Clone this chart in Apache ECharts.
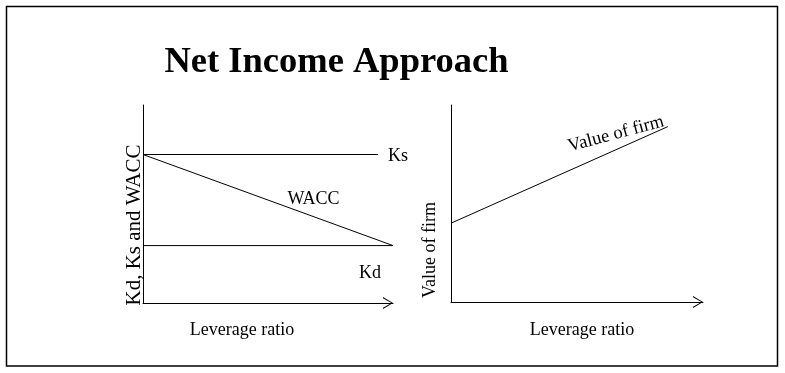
<!DOCTYPE html>
<html>
<head>
<meta charset="utf-8">
<script src="https://cdn.jsdelivr.net/npm/echarts@6/dist/echarts.min.js"></script>
<style>
html,body{margin:0;padding:0;background:#fff;}
#c{width:785px;height:373px;}
</style>
</head>
<body>
<div id="c"></div>
<script>
// ---- data (schematic) ----
const title = 'Net Income Approach';
const xName = 'Leverage ratio';
const leftYName = 'Kd, Ks and WACC';
const rightYName = 'Value of firm';

const ksX = [0, 9.4];
const ksY = [7.5, 7.5];
const kdX = [0, 10];
const kdY = [2.9, 2.9];
const waccX = [0, 10];
const waccY = [7.5, 2.9];
const valueX = [0, 8.6];
const valueY = [4.0, 8.9];

const seriesLabels = ['Ks', 'WACC', 'Kd', 'Value of firm'];

// ---- helpers ----
const pairs = (xs, ys) => xs.map((x, i) => [x, ys[i]]);
const FONT = '"Liberation Serif", "Times New Roman", serif';
const chevron = 'path://M6,0L12,10L10.8,10L6,1.6L1.2,10L0,10Z';

function xAxis(gi) {
  return {
    type: 'value', gridIndex: gi, min: 0, max: 10,
    axisLine: { show: true, onZero: false, lineStyle: { color: '#000', width: 1 },
      symbol: ['none', chevron], symbolSize: [12, 10], symbolOffset: [0, -5] },
    axisTick: { show: false }, axisLabel: { show: false }, splitLine: { show: false }
  };
}
function yAxis(gi) {
  return {
    type: 'value', gridIndex: gi, min: 0, max: 10,
    axisLine: { show: true, onZero: false, lineStyle: { color: '#000', width: 1 } },
    axisTick: { show: false }, axisLabel: { show: false }, splitLine: { show: false }
  };
}
function line(gi, xs, ys) {
  return {
    type: 'line', xAxisIndex: gi, yAxisIndex: gi, data: pairs(xs, ys),
    symbol: 'none', lineStyle: { color: '#000', width: 1 }, silent: true
  };
}
function txt(text, x, y, size, opts) {
  return Object.assign({
    type: 'text', x: x, y: y, silent: true,
    style: Object.assign({ text: text, font: size + 'px ' + FONT, fill: '#000',
      align: 'center', verticalAlign: 'middle' }, (opts && opts.style) || {})
  }, opts && opts.rotation !== undefined ? { rotation: opts.rotation } : {});
}

const chart = echarts.init(document.getElementById('c'));
chart.setOption({
  animation: false,
  backgroundColor: '#fff',
  grid: [
    { left: 143, top: 105, width: 250, height: 198 },
    { left: 451, top: 105, width: 252, height: 197 }
  ],
  xAxis: [xAxis(0), xAxis(1)],
  yAxis: [yAxis(0), yAxis(1)],
  series: [
    line(0, ksX, ksY),
    line(0, waccX, waccY),
    line(0, kdX, kdY),
    line(1, valueX, valueY)
  ],
  graphic: [
    { type: 'rect', silent: true, shape: { x: 6.5, y: 6.5, width: 771, height: 359.5 },
      style: { fill: 'none', stroke: '#000', lineWidth: 1.5 } },
    { type: 'text', x: 336.5, y: 62.5, silent: true,
      style: { text: title, font: 'bold 36.5px ' + FONT, fill: '#000', align: 'center', verticalAlign: 'middle' } },
    txt(xName, 242, 330, 18),
    txt(xName, 582, 330, 18),
    txt(leftYName, 134, 225, 21, { rotation: Math.PI / 2 }),
    txt(rightYName, 430, 250, 18, { rotation: Math.PI / 2 }),
    txt(seriesLabels[0], 388, 156, 18, { style: { align: 'left' } }),
    txt(seriesLabels[1], 313.5, 199, 18),
    txt(seriesLabels[2], 359, 273, 18, { style: { align: 'left' } }),
    txt(seriesLabels[3], 616, 134, 18.5, { rotation: 15 * Math.PI / 180 })
  ]
});
</script>
</body>
</html>
